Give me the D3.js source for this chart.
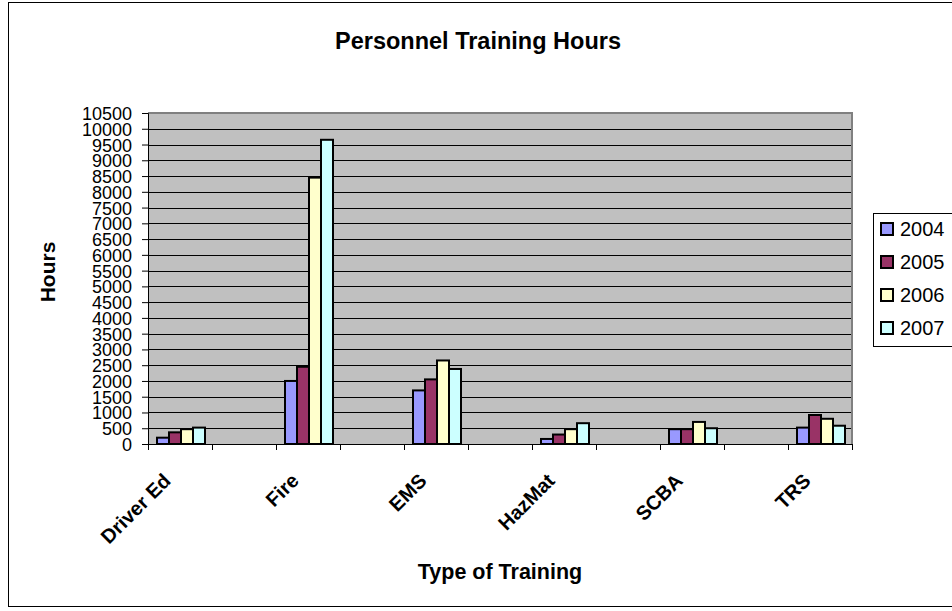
<!DOCTYPE html>
<html lang="en">
<head>
    <meta charset="UTF-8">
    <title>Personnel Training Hours</title>
    <script src="https://cdn.jsdelivr.net/npm/d3@7"></script>
    <style>
        body{ margin:0; background:#fff; }
        svg{ position:absolute; left:0px; top:0px; font-family:Arial, "Liberation Sans", sans-serif; }
    </style>
</head>
<body>
    <svg id="chart" width="952" height="611"></svg>
    <script>
        // data
        var categories = ["Driver Ed", "Fire", "EMS", "HazMat", "SCBA", "TRS"]
        var years = ["2004", "2005", "2006", "2007"]
        var hours2004 = [200, 2000, 1700, 160, 470, 520]
        var hours2005 = [370, 2450, 2050, 300, 470, 920]
        var hours2006 = [470, 8450, 2650, 470, 700, 800]
        var hours2007 = [520, 9650, 2380, 660, 500, 580]
        var yTicks = d3.range(0, 10501, 500)
        var colors = ["#9999FF", "#993366", "#FFFFCC", "#CCFFFF"]

        var series = [hours2004, hours2005, hours2006, hours2007]

        var svg = d3.select("#chart")

        // outer chart border
        svg.append("rect")
            .attr("x", 8.5).attr("y", 2.5)
            .attr("width", 960).attr("height", 604)
            .attr("fill", "#fff").attr("stroke", "#000").attr("stroke-width", 1)

        var plotLeft = 148, plotRight = 852, plotTop = 113, plotBottom = 444

        // every category is followed by an empty slot, like the original sheet
        var slots = d3.range(categories.length * 2 - 1)
        var x = d3.scaleBand().domain(slots).range([plotLeft, plotRight])
        var xInner = d3.scaleBand().domain(years).range([8, 56])
        var y = d3.scaleLinear().domain([0, 10500]).range([plotBottom, plotTop])

        // plot area
        svg.append("rect")
            .attr("x", plotLeft).attr("y", plotTop)
            .attr("width", plotRight - plotLeft).attr("height", plotBottom - plotTop)
            .attr("fill", "#C0C0C0")

        // gridlines
        svg.append("g").selectAll("line")
            .data(yTicks.slice(1))
            .enter().append("line")
            .attr("x1", plotLeft).attr("x2", plotRight)
            .attr("y1", function(d){ return Math.round(y(d)) + 0.5 })
            .attr("y2", function(d){ return Math.round(y(d)) + 0.5 })
            .attr("stroke", "#000").attr("stroke-width", 1)

        // top and right plot border (gray)
        svg.append("path")
            .attr("d", "M" + plotLeft + "," + plotTop + "H" + plotRight + "V" + plotBottom)
            .attr("fill", "none").attr("stroke", "#808080").attr("stroke-width", 2)

        // bars
        var groups = svg.append("g").selectAll("g")
            .data(categories)
            .enter().append("g")
            .attr("transform", function(d, i){ return "translate(" + x(i * 2) + ",0)" })

        groups.selectAll("rect")
            .data(function(d, i){ return years.map(function(yr, j){ return {year: yr, value: series[j][i], k: j} }) })
            .enter().append("rect")
            .attr("x", function(d){ return xInner(d.year) + 1 })
            .attr("width", xInner.bandwidth())
            .attr("y", function(d){ return y(d.value) })
            .attr("height", function(d){ return plotBottom - y(d.value) })
            .attr("fill", function(d){ return colors[d.k] })
            .attr("stroke", "#000").attr("stroke-width", 2)

        // y axis
        var yAxis = svg.append("g")
            .attr("transform", "translate(" + plotLeft + ",0)")
            .call(d3.axisLeft(y).tickValues(yTicks).tickSize(6).tickPadding(10).tickFormat(d3.format("d")))
        yAxis.select(".domain").attr("stroke", "#000")
        yAxis.selectAll("text").style("font-size", "18px").attr("fill", "#000").attr("dy", "0.36em")
        yAxis.selectAll("line").attr("stroke", "#000")

        // x axis with ticks on slot edges
        var edges = slots.map(function(s){ return x(s) }).concat([plotRight])
        svg.append("line")
            .attr("x1", plotLeft).attr("x2", plotRight)
            .attr("y1", plotBottom + 0.5).attr("y2", plotBottom + 0.5)
            .attr("stroke", "#000")
        svg.append("g").selectAll("line")
            .data(edges)
            .enter().append("line")
            .attr("x1", function(d){ return Math.round(d) + 0.5 })
            .attr("x2", function(d){ return Math.round(d) + 0.5 })
            .attr("y1", plotBottom).attr("y2", plotBottom + 6)
            .attr("stroke", "#000")

        // rotated category labels
        svg.append("g").selectAll("text")
            .data(categories)
            .enter().append("text")
            .attr("transform", function(d, i){
                var cx = x(i * 2) + x.bandwidth() / 2
                return "translate(" + (cx - 8) + "," + 482 + ") rotate(-45)"
            })
            .attr("text-anchor", "end")
            .style("font-size", "20px").style("font-weight", "bold")
            .text(function(d){ return d })

        // titles
        svg.append("text")
            .attr("x", 478).attr("y", 49)
            .attr("text-anchor", "middle")
            .style("font-size", "23.5px").style("font-weight", "bold")
            .text("Personnel Training Hours")

        svg.append("text")
            .attr("x", (plotLeft + plotRight) / 2).attr("y", 579)
            .attr("text-anchor", "middle")
            .style("font-size", "21.5px").style("font-weight", "bold")
            .text("Type of Training")

        svg.append("text")
            .attr("transform", "translate(55,272) rotate(-90)")
            .attr("text-anchor", "middle")
            .style("font-size", "21px").style("font-weight", "bold")
            .text("Hours")

        // legend
        svg.append("rect")
            .attr("x", 873.5).attr("y", 213.5)
            .attr("width", 100).attr("height", 133)
            .attr("fill", "#fff").attr("stroke", "#000")

        var legendRows = svg.append("g").selectAll("g")
            .data(years)
            .enter().append("g")
            .attr("transform", function(d, i){ return "translate(880," + (229 + i * 33) + ")" })
        legendRows.append("rect")
            .attr("x", 1).attr("y", -6)
            .attr("width", 12).attr("height", 12)
            .attr("fill", function(d, i){ return colors[i] })
            .attr("stroke", "#000").attr("stroke-width", 2)
        legendRows.append("text")
            .attr("x", 20).attr("dy", "0.36em")
            .style("font-size", "20px")
            .text(function(d){ return d })
    </script>
</body>
</html>
